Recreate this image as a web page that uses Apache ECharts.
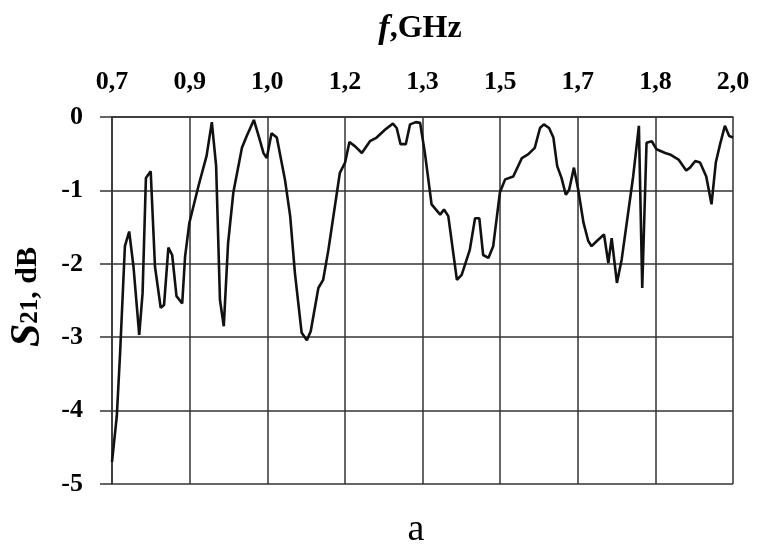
<!DOCTYPE html>
<html>
<head>
<meta charset="UTF-8">
<title>S21</title>
<script src="https://cdn.jsdelivr.net/npm/echarts@6/dist/echarts.min.js"></script>
<style>
  html, body { margin: 0; padding: 0; background: #fff; }
  #container { width: 757px; height: 548px; }
</style>
</head>
<body>
<div id="container"></div>
<script>
// frequency, GHz
var freq = [
  0.700, 0.703, 0.710, 0.717, 0.727, 0.736, 0.745, 0.757, 0.764, 0.771,
  0.781, 0.790, 0.802, 0.809, 0.818, 0.826, 0.835, 0.847, 0.853, 0.862,
  0.881, 0.898, 0.909, 0.918, 0.926, 0.934, 0.943, 0.954, 0.972, 0.982,
  0.997, 1.008, 1.017, 1.024, 1.034, 1.045, 1.062, 1.073, 1.083, 1.097,
  1.108, 1.116, 1.132, 1.142, 1.153, 1.177, 1.188, 1.197, 1.209, 1.223,
  1.240, 1.254, 1.272, 1.288, 1.296, 1.304, 1.315, 1.324, 1.336, 1.345,
  1.355, 1.369, 1.387, 1.395, 1.404, 1.422, 1.432, 1.449, 1.460, 1.469,
  1.477, 1.488, 1.498, 1.512, 1.523, 1.540, 1.558, 1.571, 1.585, 1.596,
  1.604, 1.615, 1.624, 1.632, 1.641, 1.650, 1.657, 1.667, 1.676, 1.687,
  1.697, 1.704, 1.715, 1.730, 1.739, 1.746, 1.757, 1.767, 1.791, 1.803,
  1.810, 1.819, 1.830, 1.840, 1.858, 1.868, 1.886, 1.902, 1.910, 1.921,
  1.931, 1.944, 1.955, 1.964, 1.973, 1.983, 1.992, 2.000
];
// S21, dB
var s21 = [
  -4.70, -4.70, -4.08, -3.21, -1.76, -1.56, -2.04, -2.97, -2.40, -0.83,
  -0.74, -2.04, -2.60, -2.56, -1.78, -1.88, -2.44, -2.54, -1.90, -1.44,
  -0.94, -0.53, -0.07, -0.67, -2.49, -2.85, -1.72, -1.03, -0.42, -0.26,
  -0.04, -0.28, -0.49, -0.56, -0.22, -0.28, -0.85, -1.35, -2.13, -2.94,
  -3.04, -2.92, -2.33, -2.22, -1.81, -0.76, -0.62, -0.34, -0.40, -0.49,
  -0.33, -0.28, -0.17, -0.09, -0.15, -0.37, -0.37, -0.10, -0.07, -0.08,
  -0.49, -1.19, -1.33, -1.26, -1.35, -2.22, -2.15, -1.81, -1.38, -1.38,
  -1.88, -1.92, -1.76, -1.03, -0.85, -0.81, -0.56, -0.51, -0.42, -0.15,
  -0.10, -0.15, -0.28, -0.67, -0.83, -1.06, -0.99, -0.69, -0.99, -1.44,
  -1.69, -1.76, -1.69, -1.60, -1.99, -1.65, -2.26, -1.94, -0.81, -0.12,
  -2.33, -0.35, -0.33, -0.44, -0.49, -0.51, -0.58, -0.73, -0.69, -0.60,
  -0.62, -0.81, -1.19, -0.62, -0.37, -0.12, -0.26, -0.28
];
// top axis: 8 equal steps from 0.7 to 2.0, labels as printed
var xTicks = [0.7, 0.8625, 1.025, 1.1875, 1.35, 1.5125, 1.675, 1.8375, 2.0];
var xTickLabels = ['0,7', '0,9', '1,0', '1,2', '1,3', '1,5', '1,7', '1,8', '2,0'];

var serif = '"Liberation Serif", "DejaVu Serif", serif';
var gridColor = '#333';

var pts = [];
for (var i = 0; i < freq.length; i++) pts.push([freq[i], s21[i]]);

function xLabel(v) {
  var best = 0;
  for (var k = 1; k < xTicks.length; k++) {
    if (Math.abs(xTicks[k] - v) < Math.abs(xTicks[best] - v)) best = k;
  }
  return xTickLabels[best];
}

var myChart = echarts.init(document.getElementById('container'));
var option = {
  backgroundColor: '#fff',
  animation: false,
  grid: { left: 112, right: 24, top: 117, bottom: 64 },
  xAxis: {
    type: 'value',
    position: 'top',
    min: 0.7,
    max: 2.0,
    axisLine: { show: true, lineStyle: { color: gridColor, width: 1.5 } },
    axisTick: { show: false, customValues: xTicks },
    axisLabel: {
      customValues: xTicks,
      margin: 22,
      fontFamily: serif, fontSize: 26, fontWeight: 'bold', color: '#000',
      formatter: function (v) { return xLabel(v); }
    },
    splitLine: { show: true, lineStyle: { color: gridColor, width: 1.5 } }
  },
  yAxis: {
    type: 'value',
    min: -5,
    max: 0,
    interval: 1,
    axisLine: { show: true, lineStyle: { color: gridColor, width: 1.5 } },
    axisTick: { show: true, inside: false, length: 12, lineStyle: { color: gridColor, width: 1.5 } },
    axisLabel: {
      margin: 29,
      fontFamily: serif, fontSize: 26, fontWeight: 'bold', color: '#000'
    },
    splitLine: { show: true, lineStyle: { color: gridColor, width: 1.5 } }
  },
  series: [{
    type: 'line',
    data: pts,
    showSymbol: false,
    lineStyle: { color: '#111', width: 2.6 },
    z: 3
  }],
  graphic: [{
    // x axis name
    type: 'text',
    x: 420, y: 29,
    style: {
      text: '{i|f}{n|,GHz}',
      align: 'center', verticalAlign: 'middle',
      rich: {
        i: { fontFamily: serif, fontSize: 34, fontStyle: 'italic', fontWeight: 'bold', fill: '#000' },
        n: { fontFamily: serif, fontSize: 32, fontWeight: 'bold', fill: '#000' }
      }
    }
  }, {
    // y axis name
    type: 'text',
    x: 28, y: 297,
    rotation: Math.PI / 2,
    style: {
      text: '{i|S}{s|21}{n|, dB}',
      align: 'center', verticalAlign: 'middle',
      rich: {
        i: { fontFamily: serif, fontSize: 42, fontStyle: 'italic', fontWeight: 'bold', fill: '#000' },
        s: { fontFamily: serif, fontSize: 25, fontWeight: 'bold', fill: '#000', padding: [6, 0, 0, 0] },
        n: { fontFamily: serif, fontSize: 30, fontWeight: 'bold', fill: '#000' }
      }
    }
  }, {
    type: 'text',
    x: 416, y: 530,
    style: { text: 'a', font: '38px ' + serif, fill: '#000', align: 'center', verticalAlign: 'middle' }
  }]
};
myChart.setOption(option);
</script>
</body>
</html>
